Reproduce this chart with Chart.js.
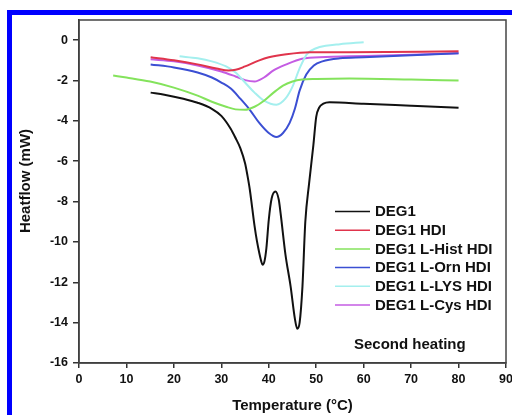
<!DOCTYPE html>
<html>
<head>
<meta charset="utf-8">
<script src="https://cdn.jsdelivr.net/npm/chart.js@4/dist/chart.umd.min.js"></script>
<style>
html,body{margin:0;padding:0;background:#fff;}
#wrap{position:relative;width:512px;height:415px;overflow:hidden;background:#fff;}
#bt{position:absolute;left:7px;top:10px;width:505px;height:5px;background:#0000ff;}
#bl{position:absolute;left:7px;top:10px;width:5px;height:405px;background:#0000ff;}
canvas{position:absolute;left:0;top:0;}
</style>
</head>
<body>
<div id="wrap">
<canvas id="c" width="512" height="415"></canvas>
<div id="bt"></div><div id="bl"></div>
</div>
<script>
// ---- data ----
const seriesNames = ["DEG1","DEG1 HDI","DEG1 L-Hist HDI","DEG1 L-Orn HDI","DEG1 L-LYS HDI","DEG1 L-Cys HDI"];

const deg1T = [15.1,18,22,25,28,30,32,33,34,35,35.5,36,36.5,37,37.5,38,38.4,38.7,39.1,39.5,40.0,40.6,41.4,42.1,42.5,43.5,44.6,45.5,46.0,46.5,47.1,47.7,48.5,49.4,50.0,50.6,51.5,52.8,60,70,80];
const deg1H = [-2.6,-2.7,-2.9,-3.1,-3.4,-3.75,-4.4,-4.85,-5.35,-6.1,-6.7,-7.4,-8.3,-9.2,-9.95,-10.55,-10.95,-11.13,-10.95,-10.3,-8.9,-7.85,-7.5,-7.9,-8.6,-10.6,-12.2,-13.8,-14.3,-14.0,-12.2,-9.0,-7.1,-5.2,-3.8,-3.35,-3.15,-3.08,-3.15,-3.25,-3.35];

const hdiT = [15.1,20,25,29,31.5,33,35,38,40,43.7,48.6,57,80];
const hdiH = [-0.85,-1.0,-1.2,-1.4,-1.5,-1.47,-1.3,-1.0,-0.85,-0.7,-0.6,-0.6,-0.55];

const histT = [7.2,10,15,20,25,28,31,33,35,37,39,41,43,45,47,50,57,70,80];
const histH = [-1.75,-1.85,-2.05,-2.35,-2.75,-3.05,-3.3,-3.43,-3.45,-3.3,-3.0,-2.6,-2.25,-2.05,-1.95,-1.92,-1.9,-1.95,-2.0];

const ornT = [15.1,20,25,28,30,32,34,36,38,40,41.6,43,44.4,45.5,46.5,47.9,49.5,51.3,55,60,70,80];
const ornH = [-1.2,-1.35,-1.6,-1.85,-2.1,-2.4,-2.9,-3.45,-4.1,-4.6,-4.8,-4.6,-4.1,-3.4,-2.5,-1.7,-1.25,-1.05,-0.9,-0.85,-0.75,-0.65];

const lysT = [21.2,25,28,31,33,35,37,39,41.6,43.5,45,46.5,48,50,52,55,60];
const lysH = [-0.8,-0.9,-1.05,-1.3,-1.6,-2.1,-2.6,-3.0,-3.2,-2.9,-2.3,-1.4,-0.7,-0.4,-0.28,-0.2,-0.1];

const cysT = [15.1,20,25,30,33,35,37,39,41,43.7,47,52,57,70,80];
const cysH = [-0.95,-1.05,-1.25,-1.55,-1.8,-1.98,-2.05,-1.85,-1.5,-1.2,-0.92,-0.83,-0.8,-0.72,-0.65];

const xTicks = [0,10,20,30,40,50,60,70,80,90];
const yTicks = [0,-2,-4,-6,-8,-10,-12,-14,-16];
// ------------------------------------

const colors = ["#111111","#e0344c","#84e35c","#3b4fd3","#a4efee","#c45ce3"];
const allT = [deg1T,hdiT,histT,ornT,lysT,cysT];
const allH = [deg1H,hdiH,histH,ornH,lysH,cysH];

const datasets = seriesNames.map((n,i)=>({
  label:n,
  data: allT[i].map((t,k)=>({x:t,y:allH[i][k]})),
  borderColor: colors[i],
  backgroundColor: colors[i],
  borderWidth: 2,
  pointRadius: 0,
  fill:false,
  cubicInterpolationMode:'monotone'
}));

const FONT = "'Liberation Sans', Arial, sans-serif";

const framePlugin = {
  id:'frame',
  afterDraw(chart){
    const {ctx, chartArea:a} = chart;
    ctx.save();
    ctx.strokeStyle='#444';
    ctx.lineWidth=1.5;
    ctx.strokeRect(a.left,a.top,a.right-a.left,a.bottom-a.top);
    // y-axis title
    ctx.save();
    ctx.translate(26,181);
    ctx.rotate(-Math.PI/2);
    ctx.font="bold 15px "+FONT;
    ctx.fillStyle='#111';
    ctx.textAlign='center';
    ctx.textBaseline='middle';
    ctx.fillText("Heatflow (mW)",0,0);
    ctx.restore();
    // legend
    const lx0=335, lx1=370, tx=375, y0=211.5, dy=18.7;
    ctx.font="bold 15px "+FONT;
    ctx.textBaseline='middle';
    ctx.textAlign='left';
    chart.data.datasets.forEach((d,i)=>{
      const y=y0+i*dy;
      ctx.strokeStyle=d.borderColor;
      ctx.lineWidth=1.5;
      ctx.beginPath();ctx.moveTo(lx0,y);ctx.lineTo(lx1,y);ctx.stroke();
      ctx.fillStyle='#111';
      ctx.fillText(d.label,tx,y+0.5);
    });
    ctx.font="bold 15px "+FONT;
    ctx.textBaseline='alphabetic';
    ctx.fillText("Second heating",354,349);
    ctx.restore();
  }
};

new Chart(document.getElementById('c'),{
  type:'line',
  data:{datasets},
  plugins:[framePlugin],
  options:{
    responsive:false,
    animation:false,
    devicePixelRatio:1,
    layout:{padding:{left:0,top:20,right:6,bottom:0}},
    plugins:{legend:{display:false},tooltip:{enabled:false}},
    scales:{
      x:{
        type:'linear',min:0,max:90,
        afterBuildTicks(s){s.ticks=xTicks.map(v=>({value:v}));},
        afterFit(s){s.height=52;s.paddingRight=0;s.paddingLeft=0;},
        grid:{drawOnChartArea:false,drawTicks:true,tickLength:5,color:'#333',lineWidth:1.5},
        border:{display:true,color:'#333',width:1.5},
        ticks:{color:'#111',font:{family:FONT,size:12.5,weight:'bold'},padding:4,maxRotation:0,autoSkip:false},
        title:{display:true,text:'Temperature (°C)',color:'#111',font:{family:FONT,size:15,weight:'bold'},padding:{top:0,bottom:0}}
      },
      y:{
        type:'linear',min:-16,max:1,
        afterBuildTicks(s){s.ticks=yTicks.map(v=>({value:v}));},
        afterFit(s){s.width=79;s.paddingTop=0;s.paddingBottom=0;},
        grid:{drawOnChartArea:false,drawTicks:true,tickLength:6,color:'#333',lineWidth:1.5},
        border:{display:true,color:'#333',width:1.5},
        ticks:{color:'#111',font:{family:FONT,size:12.5,weight:'bold'},padding:5,autoSkip:false},
        title:{display:false}
      }
    }
  }
});
</script>
</body>
</html>
